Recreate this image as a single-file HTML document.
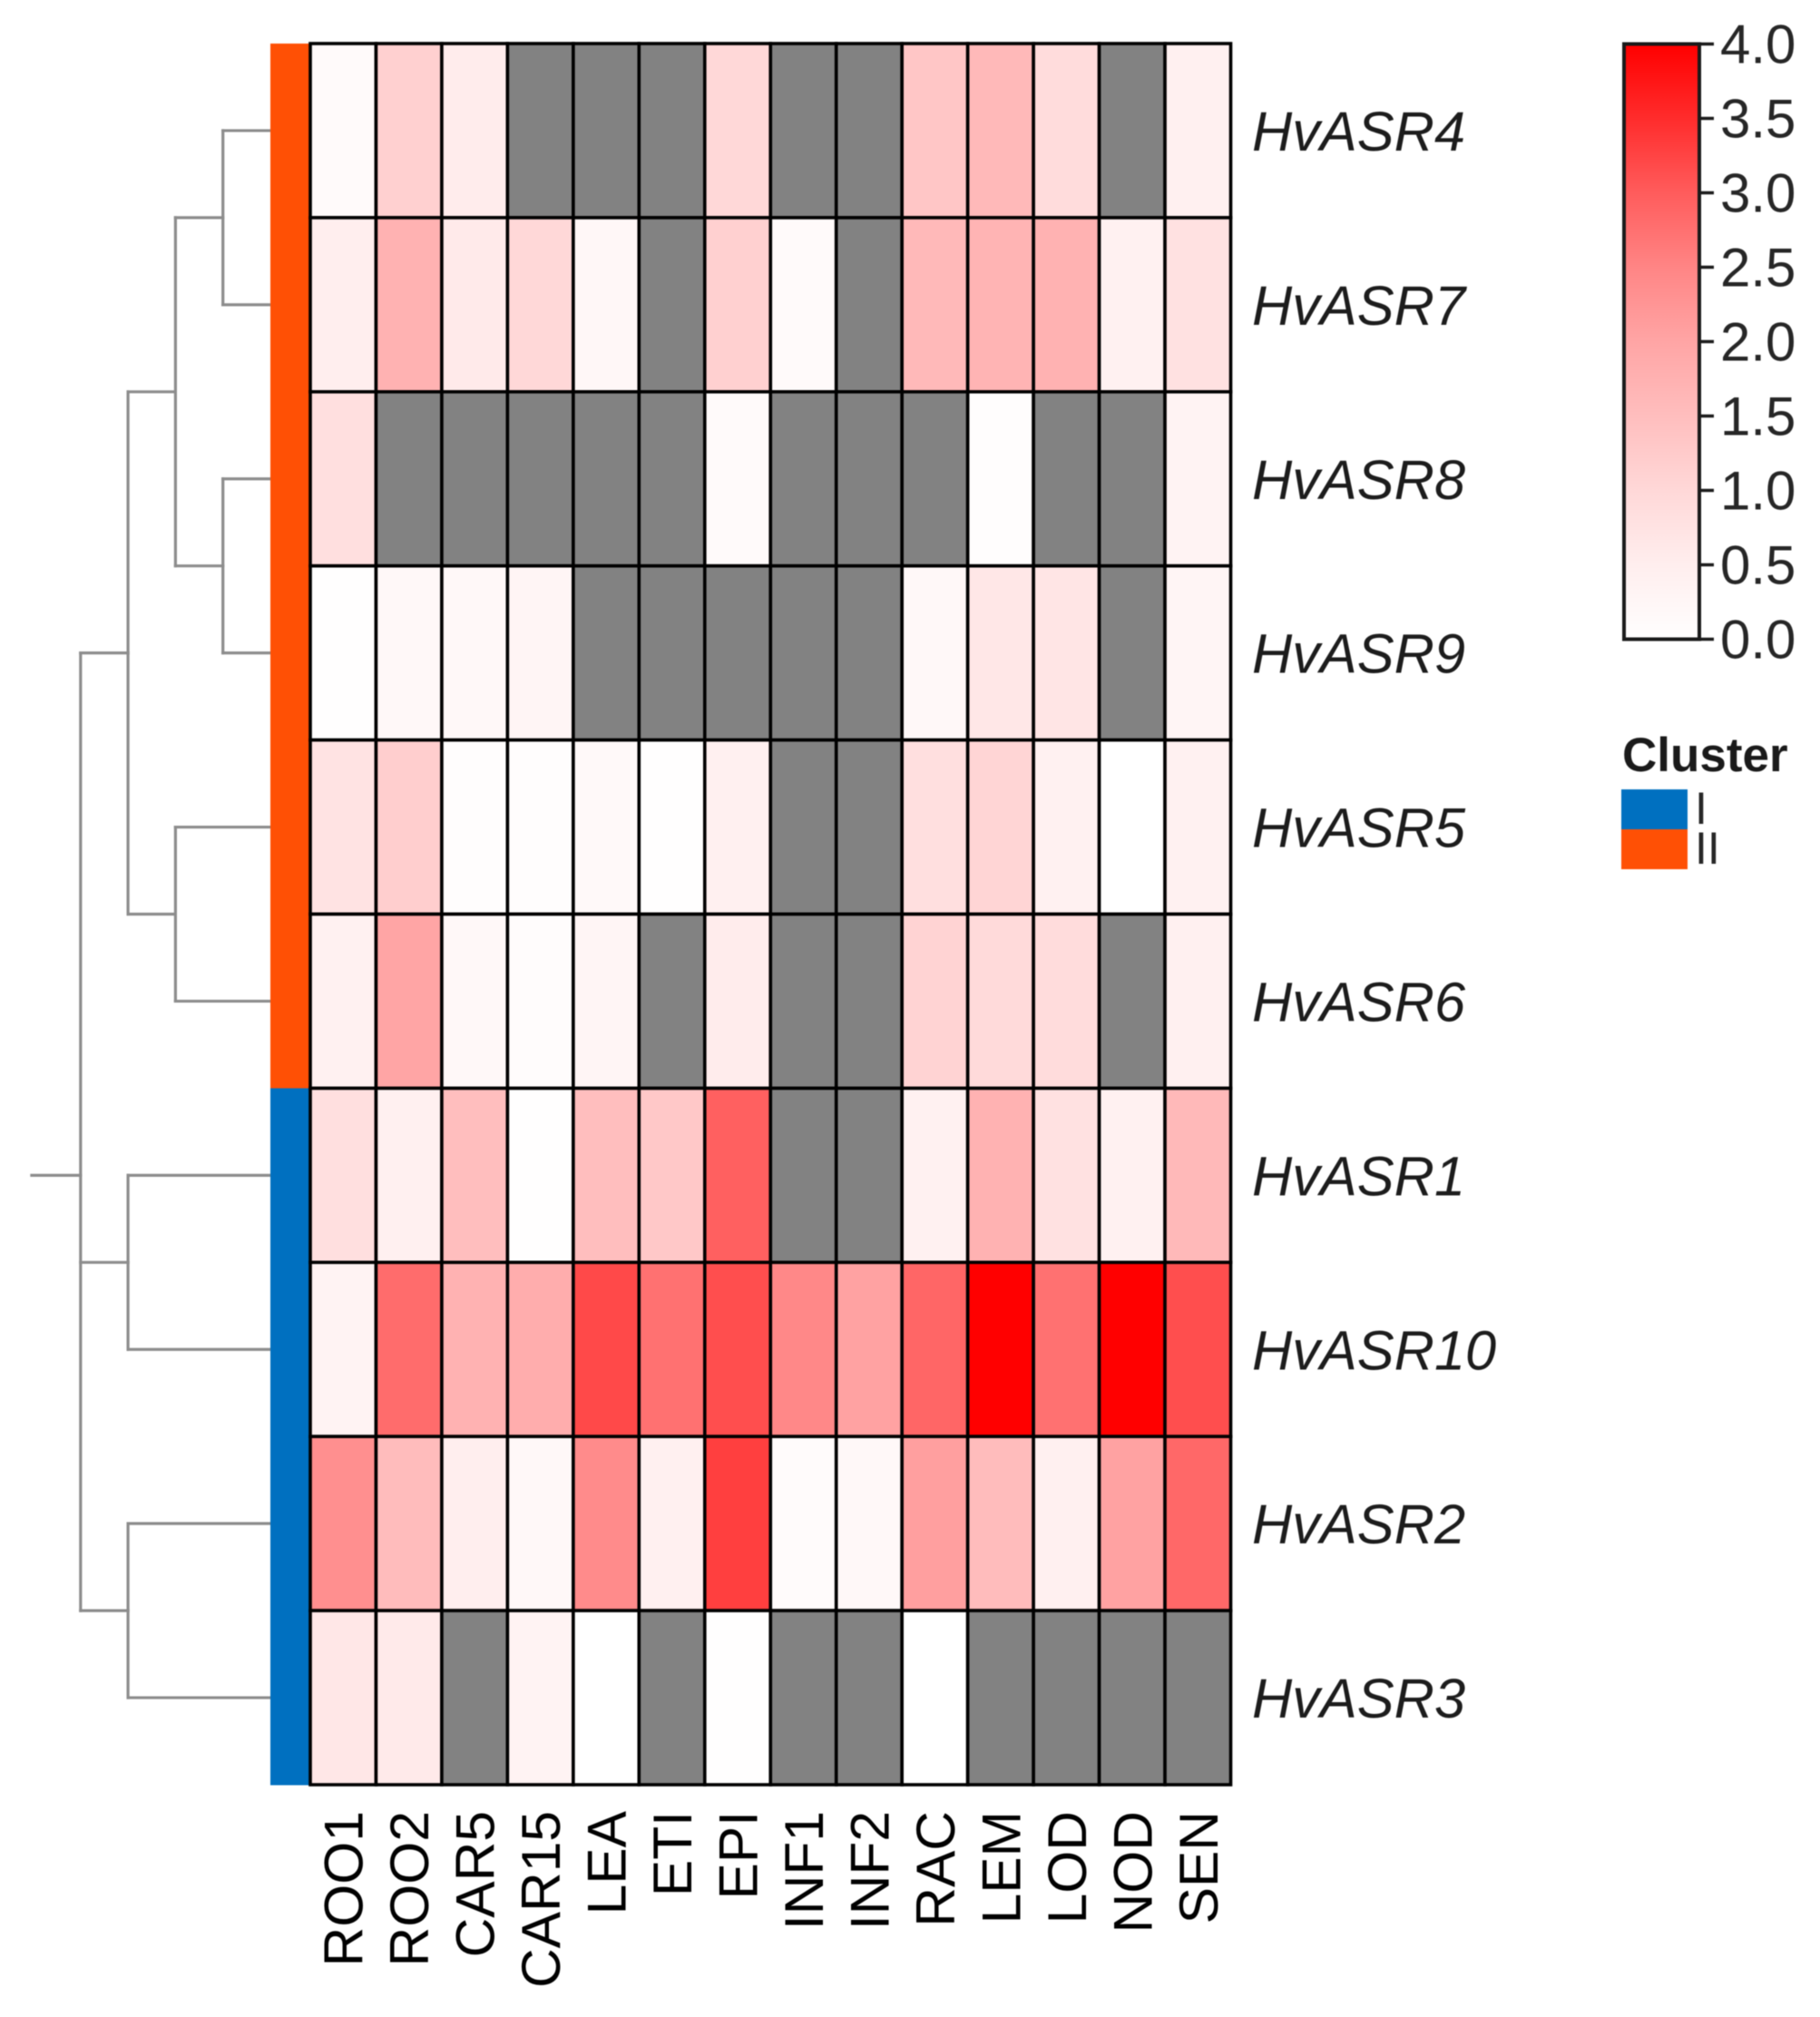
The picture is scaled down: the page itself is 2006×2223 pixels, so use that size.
<!DOCTYPE html>
<html lang="en">
<head>
<meta charset="utf-8">
<title>HvASR expression heatmap</title>
<style>
html,body{margin:0;padding:0;background:#fff;width:2006px;height:2223px;overflow:hidden}
svg{display:block;filter:blur(0.6px)}
text{font-family:"Liberation Sans",sans-serif}
</style>
</head>
<body>
<svg id="chart" xmlns="http://www.w3.org/2000/svg" width="2006" height="2223" viewBox="0 0 2006 2223"></svg>
<script>
const genes = ["HvASR4","HvASR7","HvASR8","HvASR9","HvASR5","HvASR6","HvASR1","HvASR10","HvASR2","HvASR3"];
const tissues = ["ROO1","ROO2","CAR5","CAR15","LEA","ETI","EPI","INF1","INF2","RAC","LEM","LOD","NOD","SEN"];
const clusters = ["II","II","II","II","II","II","I","I","I","I"];
const clusterNames = ["I","II"];
const clusterColors = {"I":"#0070c0","II":"#ff5005"};
const N = null;
const valuesHvASR4  = [0.15,1.15,0.55,N,N,N,1.0,N,N,1.35,1.6,0.9,N,0.45];
const valuesHvASR7  = [0.5,1.75,0.6,1.0,0.25,N,1.15,0.15,N,1.6,1.7,1.75,0.4,0.8];
const valuesHvASR8  = [0.85,N,N,N,N,N,0.15,N,N,N,0.05,N,N,0.35];
const valuesHvASR9  = [0.03,0.2,0.2,0.3,N,N,N,N,N,0.2,0.65,0.7,N,0.28];
const valuesHvASR5  = [0.75,1.2,0.07,0.05,0.18,0.03,0.45,N,N,0.85,1.05,0.4,0,0.4];
const valuesHvASR6  = [0.4,2.0,0.2,0.1,0.28,N,0.55,N,N,1.1,0.95,0.92,N,0.45];
const valuesHvASR1  = [0.85,0.45,1.5,0.04,1.5,1.3,2.95,N,N,0.4,1.75,0.8,0.4,1.6];
const valuesHvASR10 = [0.35,2.8,1.75,1.85,3.2,2.75,3.15,2.45,2.05,2.88,4,2.75,4,3.15];
const valuesHvASR2  = [2.35,1.55,0.5,0.2,2.4,0.45,3.3,0.12,0.2,2.1,1.55,0.45,2.05,2.85];
const valuesHvASR3  = [0.65,0.6,N,0.35,0,N,0.03,N,N,0,N,N,N,N];
const matrix = [valuesHvASR4,valuesHvASR7,valuesHvASR8,valuesHvASR9,valuesHvASR5,valuesHvASR6,valuesHvASR1,valuesHvASR10,valuesHvASR2,valuesHvASR3];
const colorTicks = ["0.0","0.5","1.0","1.5","2.0","2.5","3.0","3.5","4.0"];
const colorRampG = [255,238,216,190,165,133,92,44,0];
/* dendrogram merges: height, first child row, second child row, whether the children are leaves, stem row, stem end height */
const mergeHeights  = [1,1,2,3,2,3,3,4];
const mergeRowA     = [0.5,2.5,1,2,4.5,6.5,8.5,3.5];
const mergeRowB     = [1.5,3.5,3,5,5.5,7.5,9.5,9];
const mergeHasLeaves = [1,1,0,0,1,1,1,0];
const mergeStemRow  = [1,3,2,3.5,5,7,9,6.5];
const mergeStemTo   = [2,2,3,4,3,4,4,5.03];

const svg = document.getElementById('chart');
const NS = 'http://www.w3.org/2000/svg';
const plot = {left:342, right:1356.5, top:48, bottom:1967};
const rowH = (plot.bottom - plot.top) / genes.length;
const colW = (plot.right - plot.left) / tissues.length;
const xCol = i => plot.left + i * colW;
const yRow = r => plot.top + r * rowH;
const xDend = h => 298 - h * 52.3;
const bar = {left:1790, right:1873, top:48.5, bottom:704.5, max:4};
const yBar = v => bar.bottom - (v / bar.max) * (bar.bottom - bar.top);
function rampColor(v){
  const p = Math.max(0, Math.min(colorRampG.length - 1, v / 0.5));
  const i = Math.min(colorRampG.length - 2, Math.floor(p));
  const g = Math.round(colorRampG[i] + (colorRampG[i + 1] - colorRampG[i]) * (p - i));
  return 'rgb(255,' + g + ',' + g + ')';
}
function mk(tag, attrs, parent){
  const el = document.createElementNS(NS, tag);
  for (const k in attrs) el.setAttribute(k, attrs[k]);
  (parent || svg).appendChild(el);
  return el;
}
const dendLine = '#8c8c8c';

/* dendrogram */
const dendGroup = mk('g', {fill:'none', stroke:dendLine, 'stroke-width':3.2, 'stroke-linecap':'square'});


mergeHeights.forEach((h, m) => {
  const x = xDend(h);
  const branch = mk('path', {d:'M' + x + ' ' + yRow(mergeRowA[m]) + 'V' + yRow(mergeRowB[m])}, dendGroup);
  
  
  if (mergeHasLeaves[m]) {
    [mergeRowA[m], mergeRowB[m]].forEach(r => {
      const leaf = mk('path', {d:'M' + x + ' ' + yRow(r) + 'H' + xDend(0)}, dendGroup);
      
      
    });
  }
  const stem = mk('path', {d:'M' + x + ' ' + yRow(mergeStemRow[m]) + 'H' + xDend(mergeStemTo[m])}, dendGroup);
  
  
});

/* cluster annotation strip */
clusters.forEach((c, r) => {
  const strip = mk('rect', {x:298, y:yRow(r), width:44, height:rowH + 0.5, fill:clusterColors[c]});
  
  
});

/* heatmap cells */
matrix.forEach((row, r) => {
  row.forEach((v, c) => {
    const cell = mk('rect', {
      x:xCol(c), y:yRow(r), width:colW, height:rowH,
      fill: v === null ? '#828282' : rampColor(v),
      stroke:'#000', 'stroke-width':3.6
    });
    
    
  });
});

/* row labels */
genes.forEach((g, r) => {
  const t = mk('text', {x:1380, y:yRow(r + 0.5) + 22, 'font-size':61.3, 'font-style':'italic', fill:'#1c1c1c'});
  t.textContent = g;
  
  
});

/* column labels */
tissues.forEach((name, c) => {
  const cx = xCol(c + 0.5) + 21.5;
  const t = mk('text', {x:0, y:0, 'font-size':60.5, fill:'#000', 'text-anchor':'end',
    transform:'translate(' + cx + ' 1996) rotate(-90)'});
  t.textContent = name;
  
  
});

/* colour bar */
const defs = mk('defs', {});
const grad = mk('linearGradient', {id:'ramp', x1:0, y1:1, x2:0, y2:0}, defs);
colorTicks.forEach(label => {
  const v = parseFloat(label);
  mk('stop', {offset:v / bar.max, 'stop-color':rampColor(v)}, grad);
});
const colorBar = mk('rect', {x:bar.left, y:bar.top, width:bar.right - bar.left, height:bar.bottom - bar.top,
  fill:'url(#ramp)', stroke:'#1a1a1a', 'stroke-width':4});


colorTicks.forEach(label => {
  const v = parseFloat(label);
  const y = yBar(v);
  const tick = mk('line', {x1:bar.right, x2:1889, y1:y, y2:y, stroke:'#1a1a1a', 'stroke-width':3.5});
  
  
  const t = mk('text', {x:1896, y:y + 21, 'font-size':60, fill:'#262626'});
  t.textContent = label;
  
  
});

/* cluster legend */
const legendTitle = mk('text', {x:1788, y:850, 'font-size':53, 'font-weight':'bold', fill:'#1a1a1a'});
legendTitle.textContent = 'Cluster';


clusterNames.forEach((name, i) => {
  const top = 870 + i * 44;
  const swatch = mk('rect', {x:1787, y:top, width:73, height:44, fill:clusterColors[name]});
  
  
  const t = mk('text', {x:1868, y:top + 38, 'font-size':50, fill:'#262626'});
  t.textContent = name;
  
  
});
</script>
</body>
</html>
